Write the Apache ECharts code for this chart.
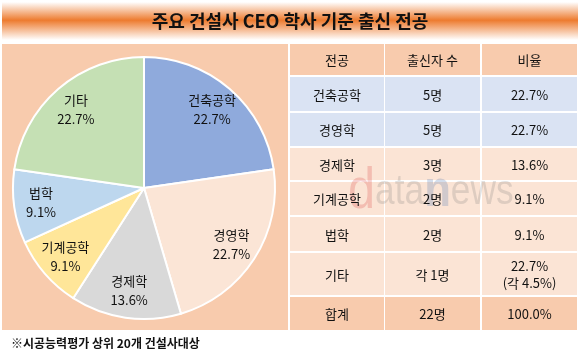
<!DOCTYPE html>
<html><head><meta charset="utf-8">
<script src="https://cdn.jsdelivr.net/npm/echarts@6/dist/echarts.min.js"></script>
<style>html,body{margin:0;padding:0;background:#fff}#c{width:580px;height:357px}</style>
</head><body><div id="c"></div>
<script>
const titleText = '주요 건설사 CEO 학사 기준 출신 전공';
const majors = ['건축공학', '경영학', '경제학', '기계공학', '법학', '기타'];
const counts = [5, 5, 3, 2, 2, 5];
const sliceColors = ['#8faadc', '#fbe5d6', '#d9d9d9', '#ffe699', '#bdd7ee', '#c5e0b4'];
const tableHeader = ['전공', '출신자 수', '비율'];
const tableMajors = ['건축공학', '경영학', '경제학', '기계공학', '법학', '기타', '합계'];
const tableCounts = ['5명', '5명', '3명', '2명', '2명', '각 1명', '22명'];
const tableRatios = ['22.7%', '22.7%', '13.6%', '9.1%', '9.1%', '22.7%\n(각 4.5%)', '100.0%'];
const footnote = '※시공능력평가 상위 20개 건설사대상';

const FONT = '"Noto Sans CJK KR", "Noto Sans", sans-serif';
const total = counts.reduce((a, b) => a + b, 0);
const pieData = majors.map((m, i) => ({ name: m, value: counts[i], itemStyle: { color: sliceColors[i] } }));

// table layout
const colX = [290, 385, 482];
const colW = [94, 95, 95];
const rowY = [44, 77, 113, 148, 182, 217, 253, 297];
const rowH = [31, 34, 33, 32, 33, 34, 42, 33];
function rowFill(r) {
  if (r === 0 || r === rowY.length - 1) return '#f8cbad';
  if (r <= 2) return '#dae3f3';
  return '#fbe4d5';
}
const tableRows = [tableHeader].concat(tableMajors.map((m, i) => [m, tableCounts[i], tableRatios[i]]));
const graphics = [];
graphics.push({
  type: 'rect', z: 0, shape: { x: 2, y: 2, width: 576, height: 38 },
  style: { fill: new echarts.graphic.LinearGradient(0, 0, 0, 1, [
    { offset: 0, color: '#ffffff' }, { offset: 0.48, color: '#ed7b2f' }, { offset: 1, color: '#ffffff' }]) }
});
graphics.push({
  type: 'text', z: 5, x: 290, y: 21,
  style: { text: titleText, font: 'bold 18px ' + FONT, fill: '#111', align: 'center', verticalAlign: 'middle' }
});
graphics.push({ type: 'rect', z: 0, shape: { x: 2, y: 44, width: 286, height: 286 }, style: { fill: '#f8cbad' } });
tableRows.forEach((row, r) => {
  row.forEach((txt, c) => {
    graphics.push({ type: 'rect', z: 0, shape: { x: colX[c], y: rowY[r], width: colW[c], height: rowH[r] }, style: { fill: rowFill(r) } });
    graphics.push({
      type: 'text', z: 10, x: colX[c] + colW[c] / 2, y: rowY[r] + rowH[r] / 2 + 1,
      style: { text: txt, font: '13px ' + FONT, fill: '#111', align: 'center', verticalAlign: 'middle', lineHeight: 17 }
    });
  });
});
graphics.push({
  type: 'text', z: 5, x: 348, y: 221, scaleX: 0.84, originX: 0,
  style: {
    text: '{d|d}{a|ata}{n|n}{a|ews}', verticalAlign: 'bottom',
    rich: {
      d: { font: '58px Arial, sans-serif', fill: 'rgba(220,70,70,0.25)' },
      a: { font: '42px Arial, sans-serif', fill: 'rgba(110,110,110,0.2)' },
      n: { font: 'bold 52px Arial, sans-serif', fill: 'rgba(80,120,180,0.25)' }
    }
  }
});
graphics.push({
  type: 'text', z: 5, x: 11, y: 343,
  style: { text: footnote, font: 'bold 12px ' + FONT, fill: '#111', verticalAlign: 'middle' }
});

const chart = echarts.init(document.getElementById('c'));
chart.setOption({
  animation: false,
  graphic: graphics,
  series: [{
    type: 'pie', z: 2, center: [144, 188], radius: 131, startAngle: 90, clockwise: true,
    data: pieData, label: { show: false }, labelLine: { show: false },
    itemStyle: { borderColor: '#fff', borderWidth: 2 }, emphasis: { disabled: true }, silent: true
  }, {
    type: 'pie', z: 3, center: [144, 188], radius: [71, 131], startAngle: 90, clockwise: true,
    data: majors.map((m, i) => ({ name: m, value: counts[i] })),
    itemStyle: { color: 'rgba(0,0,0,0)', borderWidth: 0 }, silent: true, emphasis: { disabled: true },
    labelLine: { show: false },
    label: {
      show: true, position: 'inside', color: '#111', fontFamily: FONT, fontSize: 13, lineHeight: 19,
      formatter: p => p.name + '\n' + (p.value / total * 100).toFixed(1) + '%'
    }
  }]
});
</script></body></html>
